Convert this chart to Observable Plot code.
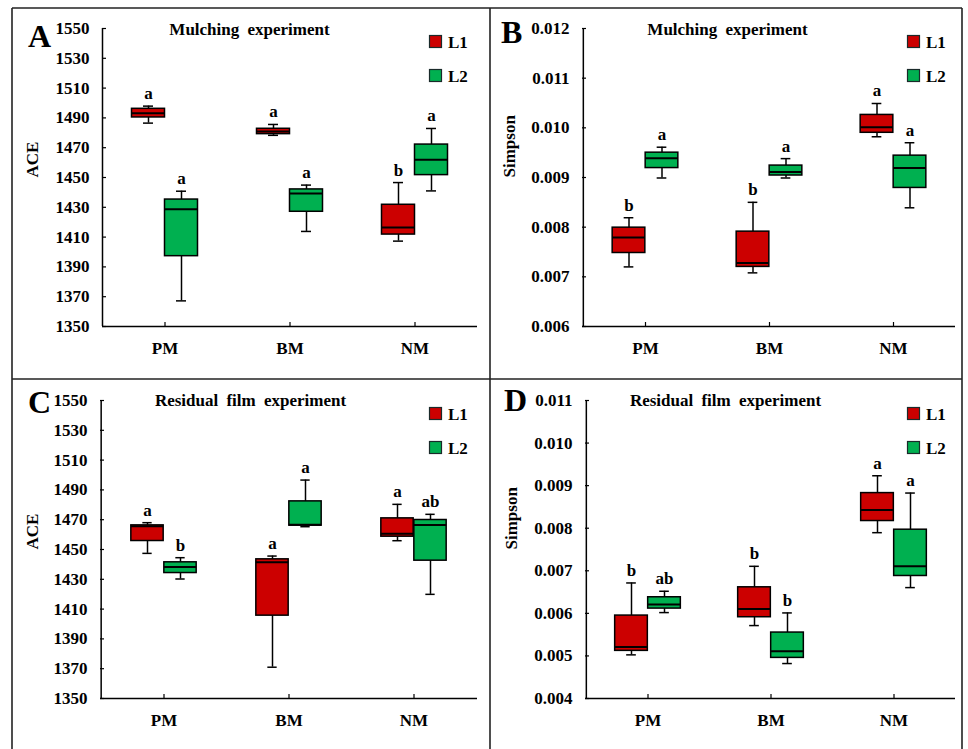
<!DOCTYPE html>
<html><head><meta charset="utf-8">
<script src="https://cdn.jsdelivr.net/npm/d3@7"></script>
<script src="https://cdn.jsdelivr.net/npm/@observablehq/plot@0.6"></script>
<style>
body{margin:0;background:#fff;}
#chart{position:relative;width:968px;height:749px;overflow:hidden;font-family:"Liberation Serif","Times New Roman",serif;background:#fff;}
#chart > svg{position:absolute;margin:0;}
</style></head><body><div id="chart"></div>
<script>
// ---------- data ----------
const categories = ["PM", "BM", "NM"];
const seriesNames = ["L1", "L2"];
const seriesColors = ["#cc0000", "#00b050"];

// each entry: [min, q1, median, q3, max] for PM, BM, NM
// Panel A - ACE, mulching experiment
const aceMulchL1 = [[1486.5, 1490.3, 1493.2, 1496.1, 1497.9], [1478.3, 1479.1, 1480.9, 1482.7, 1485.6], [1407.3, 1411.7, 1416.4, 1431.7, 1446.6]];
const aceMulchL2 = [[1367.2, 1397.2, 1428.7, 1435.2, 1440.8], [1413.8, 1427.0, 1439.3, 1442.0, 1444.9], [1441.0, 1451.6, 1461.9, 1472.1, 1482.9]];
const aceMulchLettersL1 = ["a", "a", "b"];
const aceMulchLettersL2 = ["a", "a", "a"];

// Panel B - Simpson, mulching experiment
const simpMulchL1 = [[0.00720, 0.00748, 0.00779, 0.00799, 0.00819], [0.00708, 0.00720, 0.00728, 0.00791, 0.00850], [0.00982, 0.00990, 0.01001, 0.01026, 0.01049]];
const simpMulchL2 = [[0.00899, 0.00919, 0.00939, 0.00950, 0.00961], [0.00899, 0.00904, 0.00911, 0.00924, 0.00938], [0.00839, 0.00879, 0.00919, 0.00944, 0.00970]];
const simpMulchLettersL1 = ["b", "b", "a"];
const simpMulchLettersL2 = ["a", "a", "a"];

// Panel C - ACE, residual film experiment
const aceResL1 = [[1447.4, 1455.7, 1465.6, 1466.2, 1468.0], [1371.0, 1405.6, 1441.4, 1443.4, 1445.6], [1455.9, 1458.6, 1460.6, 1470.9, 1480.3]];
const aceResL2 = [[1430.2, 1434.2, 1438.3, 1441.4, 1444.5], [1465.3, 1466.0, 1466.6, 1482.3, 1496.6], [1419.9, 1442.5, 1466.4, 1469.8, 1473.6]];
const aceResLettersL1 = ["a", "a", "a"];
const aceResLettersL2 = ["b", "a", "ab"];

// Panel D - Simpson, residual film experiment
const simpResL1 = [[0.005025, 0.005119, 0.005212, 0.005948, 0.006714], [0.005713, 0.005909, 0.006104, 0.006612, 0.007105], [0.007895, 0.008169, 0.008427, 0.008825, 0.009232]];
const simpResL2 = [[0.006018, 0.006112, 0.006206, 0.006378, 0.006519], [0.004821, 0.004954, 0.005111, 0.005549, 0.006010], [0.006605, 0.006878, 0.007105, 0.007965, 0.008826]];
const simpResLettersL1 = ["b", "b", "a"];
const simpResLettersL2 = ["ab", "b", "a"];

// tick values
const aceTicks = [1350, 1370, 1390, 1410, 1430, 1450, 1470, 1490, 1510, 1530, 1550];
const simpTicksB = [0.006, 0.007, 0.008, 0.009, 0.010, 0.011, 0.012];
const simpTicksD = [0.004, 0.005, 0.006, 0.007, 0.008, 0.009, 0.010, 0.011];

const panelLetters = ["A", "B", "C", "D"];
const panelTitles = ["Mulching experiment", "Mulching experiment", "Residual film experiment", "Residual film experiment"];
const yLabels = ["ACE", "Simpson", "ACE", "Simpson"];

// ---------- helpers ----------
function toRows(l1, l2, let1, let2) {
  const out = [];
  [[l1, let1, seriesNames[0]], [l2, let2, seriesNames[1]]].forEach(([stats, letters, s]) => {
    stats.forEach((v, i) => out.push({cat: categories[i], series: s, min: v[0], q1: v[1], med: v[2], q3: v[3], max: v[4], letter: letters[i]}));
  });
  return out;
}

const FONT = '"Liberation Serif","Times New Roman",serif';
const chart = document.getElementById("chart");

function panel(cfg) {
  const {rows, ticks, format, yLabel, left, top, width, height, ml, mr, mt, mb, labelX} = cfg;
  const plotW = width - ml - mr, plotH = height - mt - mb;
  const bw = plotW / categories.length;
  const boxW = 33, capW = 10, half = boxW / 2;
  const boxInset = (bw - boxW) / 2, capInset = (bw - capW) / 2;
  const marks = [];
  seriesNames.forEach((s, si) => {
    const d = rows.filter(r => r.series === s);
    const dx = si === 0 ? -half : half;
    marks.push(
      Plot.ruleX(d, {x: "cat", y1: "min", y2: "q1", dx, stroke: "#000", strokeWidth: 1.5}),
      Plot.ruleX(d, {x: "cat", y1: "q3", y2: "max", dx, stroke: "#000", strokeWidth: 1.5}),
      Plot.tickY(d, {x: "cat", y: "min", dx, insetLeft: capInset, insetRight: capInset, stroke: "#000", strokeWidth: 1.5}),
      Plot.tickY(d, {x: "cat", y: "max", dx, insetLeft: capInset, insetRight: capInset, stroke: "#000", strokeWidth: 1.5}),
      Plot.barY(d, {x: "cat", y1: "q1", y2: "q3", dx, insetLeft: boxInset, insetRight: boxInset, fill: seriesColors[si], stroke: "#000", strokeWidth: 1.5}),
      Plot.tickY(d, {x: "cat", y: "med", dx, insetLeft: boxInset, insetRight: boxInset, stroke: "#000", strokeWidth: 2}),
      Plot.text(d, {x: "cat", y: "max", text: "letter", dx, dy: -7, lineAnchor: "bottom", fontSize: 17, fontWeight: "bold", fill: "#000"})
    );
  });
  const svg = Plot.plot({
    width, height,
    marginLeft: ml, marginRight: mr, marginTop: mt, marginBottom: mb,
    x: {type: "band", domain: categories, padding: 0},
    y: {domain: [ticks[0], ticks[ticks.length - 1]]},
    style: {fontFamily: FONT, fontSize: "17px", fontWeight: "bold", background: "transparent", overflow: "visible", color: "#000"},
    marks: [
      Plot.axisY({ticks, tickSize: 0, tickPadding: 13, tickFormat: format, label: null}),
      Plot.axisX({tickSize: 0, tickPadding: 15, label: null}),
      Plot.tickY(ticks, {y: d => d, insetRight: plotW - 4, stroke: "#000", strokeWidth: 1.2}),
      Plot.tickX(categories, {x: d => d, insetTop: plotH - 4, stroke: "#000", strokeWidth: 1.2}),
      Plot.tickX([categories[0]], {x: d => d, dx: -bw / 2, stroke: "#000", strokeWidth: 1.5}),
      Plot.ruleY([ticks[0]], {stroke: "#000", strokeWidth: 1.5}),
      ...marks,
      Plot.text([yLabel], {frameAnchor: "left", rotate: -90, dx: labelX - ml, fontSize: 17, fontWeight: "bold", fill: "#000"})
    ]
  });
  svg.style.left = left + "px";
  svg.style.top = top + "px";
  chart.appendChild(svg);
}

const fmt3 = d3.format(".3f");
panel({rows: toRows(aceMulchL1, aceMulchL2, aceMulchLettersL1, aceMulchLettersL2), ticks: aceTicks, format: d3.format("d"), yLabel: yLabels[0],
  left: 0, top: 0, width: 484, height: 370, ml: 102, mr: 7, mt: 28, mb: 44, labelX: 32});
panel({rows: toRows(simpMulchL1, simpMulchL2, simpMulchLettersL1, simpMulchLettersL2), ticks: simpTicksB, format: fmt3, yLabel: yLabels[1],
  left: 484, top: 0, width: 484, height: 370, ml: 98, mr: 13, mt: 28, mb: 44, labelX: 25});
panel({rows: toRows(aceResL1, aceResL2, aceResLettersL1, aceResLettersL2), ticks: aceTicks, format: d3.format("d"), yLabel: yLabels[2],
  left: 0, top: 370, width: 484, height: 379, ml: 100, mr: 7, mt: 30, mb: 51, labelX: 32});
panel({rows: toRows(simpResL1, simpResL2, simpResLettersL1, simpResLettersL2), ticks: simpTicksD, format: fmt3, yLabel: yLabels[3],
  left: 484, top: 370, width: 484, height: 379, ml: 101, mr: 13, mt: 30, mb: 51, labelX: 27});

// ---------- overlay: frames, panel letters, titles, legends ----------
const ov = d3.select(chart).append("svg")
  .attr("width", 968).attr("height", 749)
  .style("left", "0px").style("top", "0px").style("pointer-events", "none")
  .style("font-family", FONT).style("font-weight", "bold");

const frameLines = [[12, 8, 12, 749], [962, 8, 962, 749], [12, 8, 962, 8], [490, 8, 490, 749], [12, 379, 962, 379]];
ov.selectAll("line.frame").data(frameLines).join("line")
  .attr("x1", d => d[0]).attr("y1", d => d[1]).attr("x2", d => d[2]).attr("y2", d => d[3])
  .attr("stroke", "#222").attr("stroke-width", 1.6);

const panelPos = [
  {letterX: 28, letterY: 46.5, titleX: 249.5, titleY: 34.5, legX: 429, legY: 35},
  {letterX: 501, letterY: 42.5, titleX: 727.5, titleY: 34.5, legX: 907, legY: 35},
  {letterX: 28, letterY: 412.5, titleX: 250.5, titleY: 406, legX: 429, legY: 407},
  {letterX: 504, letterY: 410.5, titleX: 725.5, titleY: 406, legX: 907, legY: 407}
];
panelPos.forEach((p, i) => {
  ov.append("text").attr("x", p.letterX).attr("y", p.letterY).attr("font-size", 32).text(panelLetters[i]);
  ov.append("text").attr("x", p.titleX).attr("y", p.titleY).attr("text-anchor", "middle").attr("font-size", 17)
    .attr("word-spacing", 4).text(panelTitles[i]);
  seriesNames.forEach((s, si) => {
    const y = p.legY + si * 34;
    ov.append("rect").attr("x", p.legX + 0.5).attr("y", y + 0.5).attr("width", 12).attr("height", 12)
      .attr("fill", seriesColors[si]).attr("stroke", "#1a2a2a").attr("stroke-width", 1.2);
    ov.append("text").attr("x", p.legX + 19).attr("y", y + 13).attr("font-size", 17).text(s);
  });
});
</script>
</body></html>
